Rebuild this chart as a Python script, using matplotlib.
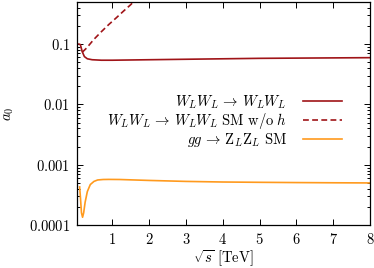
import numpy as np
import matplotlib
matplotlib.use('Agg')
import matplotlib.pyplot as plt
from matplotlib.ticker import FixedLocator, FixedFormatter, LogLocator, NullFormatter

plt.rcParams['mathtext.fontset'] = 'cm'
plt.rcParams['font.family'] = 'serif'
plt.rcParams['font.serif'] = ['DejaVu Serif']

# W_L W_L -> W_L W_L
ww_x = [0.09, 0.13, 0.18, 0.24, 0.32, 0.45, 0.7, 1.0, 2.0, 3.0, 4.0, 5.0, 6.0, 7.0, 8.0]
ww_y = [0.100, 0.098, 0.075, 0.062, 0.057, 0.055, 0.054, 0.054, 0.055, 0.056, 0.057, 0.058, 0.0585, 0.059, 0.0595]

# W_L W_L -> W_L W_L SM w/o h
nh_x = [0.18, 0.3, 0.5, 0.7, 0.9, 1.1, 1.3, 1.5, 1.6]
nh_y = [0.073, 0.086, 0.12, 0.16, 0.21, 0.27, 0.35, 0.45, 0.52]

# g g -> Z_L Z_L SM
zz_x = [0.11, 0.13, 0.16, 0.19, 0.22, 0.26, 0.32, 0.4, 0.5, 0.6, 0.75, 0.9, 1.2, 2.0, 3.0, 4.0, 5.0, 6.0, 7.0, 8.0]
zz_y = [0.00043, 0.00030, 0.00016, 0.000135, 0.00016, 0.00024, 0.00036, 0.00047, 0.00053, 0.00056, 0.00057, 0.000572, 0.00057, 0.00055, 0.00053, 0.000518, 0.000512, 0.000507, 0.000503, 0.0005]

red = '#a01418'
orange = '#ff9a1e'

fig = plt.figure(figsize=(3.74, 2.68), dpi=100)
ax = fig.add_axes([0.206, 0.16, 0.783, 0.833])

ax.plot(ww_x, ww_y, color=red, lw=1.2, label=r'$W_LW_L \,\rightarrow\, W_LW_L$')
ax.plot(nh_x, nh_y, color=red, lw=1.2, ls=(0, (3.5, 2)), label=r'$W_LW_L \,\rightarrow\, W_LW_L\ \mathrm{SM\ w/o}\ h$')
ax.plot(zz_x, zz_y, color=orange, lw=1.2, label=r'$gg \,\rightarrow\, \mathrm{Z}_L\mathrm{Z}_L\ \mathrm{SM}$')

ax.set_yscale('log')
ax.set_xlim(0.04, 8)
ax.set_ylim(0.0001, 0.5)

yt = [0.0001, 0.001, 0.01, 0.1]
ax.yaxis.set_major_locator(FixedLocator(yt))
ax.yaxis.set_major_formatter(FixedFormatter([r'$0.0001$', r'$0.001$', r'$0.01$', r'$0.1$']))
ax.yaxis.set_minor_locator(LogLocator(base=10, subs=np.arange(2, 10)))
ax.yaxis.set_minor_formatter(NullFormatter())

xt = [1, 2, 3, 4, 5, 6, 7, 8]
ax.xaxis.set_major_locator(FixedLocator(xt))
ax.xaxis.set_major_formatter(FixedFormatter(['$%d$' % v for v in xt]))

ax.tick_params(which='both', direction='in', top=True, right=True, labelsize=10.5, pad=5, width=0.7)
ax.tick_params(which='major', length=4)
ax.tick_params(which='minor', length=2)
for s in ax.spines.values():
    s.set_linewidth(0.9)

ax.set_xlabel(r'$\sqrt{s}\ [\mathrm{TeV}]$', fontsize=10.5, labelpad=1)
ax.set_ylabel(r'$a_0$', fontsize=10.5, labelpad=9)

ax.legend(loc='upper right', bbox_to_anchor=(0.905, 0.59), frameon=False, markerfirst=False,
          fontsize=10.5, handlelength=2.7, handletextpad=1.1, labelspacing=0.02,
          borderpad=0, borderaxespad=0)

fig.savefig('out.png', dpi=100)
